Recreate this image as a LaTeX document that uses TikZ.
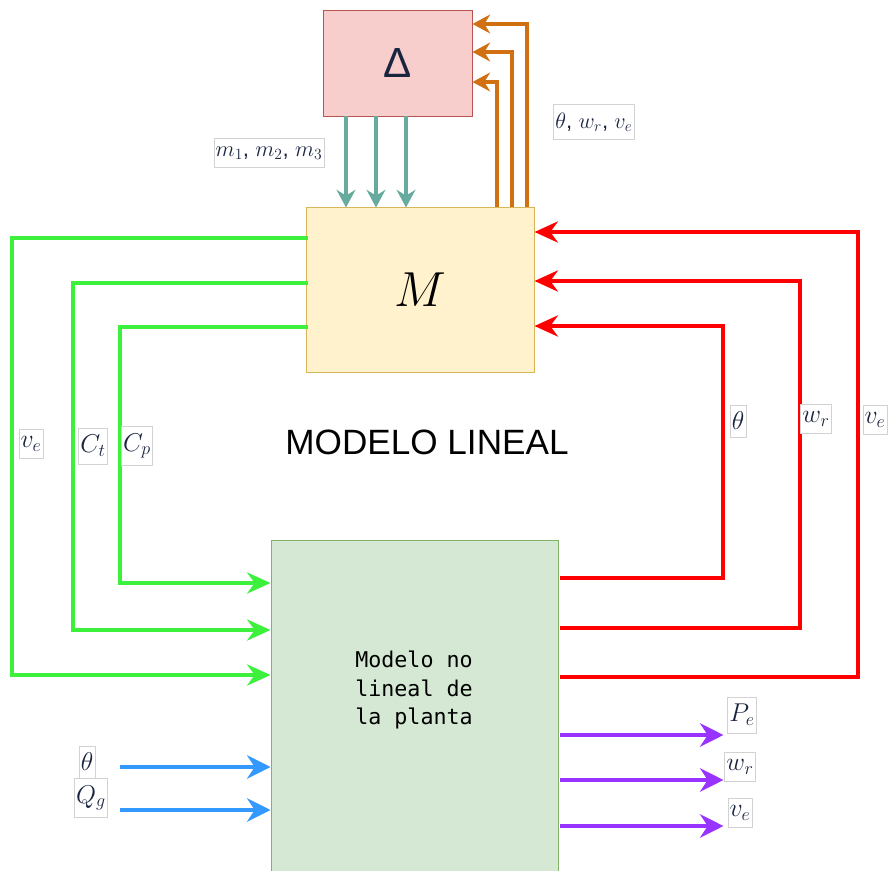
\RequirePackage{fix-cm}
\documentclass[tikz,border=0pt]{standalone}
\usepackage{fontspec}
\setmainfont{Liberation Sans}
\setmonofont{DejaVu Sans Mono}
\usepackage{tikz}
\usetikzlibrary{arrows.meta, calc}
\definecolor{delfill}{RGB}{248,206,204}
\definecolor{deldraw}{RGB}{184,84,80}
\definecolor{linfill}{RGB}{255,242,204}
\definecolor{lindraw}{RGB}{214,182,86}
\definecolor{plfill}{RGB}{213,232,212}
\definecolor{pldraw}{RGB}{130,179,102}
\definecolor{sgreen}{RGB}{60,240,60}
\definecolor{sred}{RGB}{255,0,0}
\definecolor{steal}{RGB}{103,171,159}
\definecolor{sorange}{RGB}{208,112,16}
\definecolor{sblue}{RGB}{51,153,255}
\definecolor{spurple}{RGB}{153,51,255}
\definecolor{txtnavy}{RGB}{26,37,64}

\begin{document}
\begin{tikzpicture}[
  x=0.03cm, y=-0.03cm,
  blk/.style = {rectangle, draw, line width=0.8pt, inner sep=0pt},
  lbl/.style = {rectangle, draw=gray!35, line width=0.4pt, fill=white,
                inner xsep=1.5pt, inner ysep=6pt, text=txtnavy,
                font=\fontsize{22}{26}\selectfont},
  lblw/.style = {lbl, inner ysep=7pt, font=\fontsize{19}{23}\selectfont},
  fb/.style  = {line width=3.4pt, line cap=rect,
                -{Stealth[length=20pt, width=18pt]}},
  unc/.style = {line width=2.6pt, -{Stealth[length=15pt, width=16pt]}},
  io/.style  = {line width=3.8pt,
                -{Stealth[length=20pt, width=20pt]}}
]
\useasboundingbox (0,0) rectangle (889,871);

%% ── blocks ────────────────────────────────────────────────────────────────
\node[blk, fill=delfill, draw=deldraw, minimum width=4.47cm,
      minimum height=3.18cm, text=txtnavy, font=\fontsize{36}{40}\selectfont]
  (delta) at (397.5, 63) {Δ};

\node[blk, fill=linfill, draw=lindraw, minimum width=6.84cm,
      minimum height=4.95cm, font=\fontsize{42}{48}\selectfont]
  (lin) at (420, 289.5) {$M$};

\node[blk, fill=plfill, draw=pldraw, minimum width=8.61cm,
      minimum height=10.5cm]
  (plant) at (414.5, 715) {};

\node[align=center, font=\ttfamily\fontsize{18.5}{24}\selectfont]
  (plantlbl) at (414, 690) {Modelo no\\lineal de\\la planta};

\node[font=\fontsize{30}{36}\selectfont] (title) at (427, 442) {MODELO LINEAL};

%% ── uncertainty loop ──────────────────────────────────────────────────────
\draw[unc, steal] ($(delta.south)+(-51.5,0)$) -- ++(0,91);
\draw[unc, steal] ($(delta.south)+(-21.5,0)$) -- ++(0,91);
\draw[unc, steal] ($(delta.south)+(8.5,0)$)   -- ++(0,91);

\draw[unc, sorange] ($(lin.north)+(77,0)$)  |- ($(delta.east)+(0,19)$);
\draw[unc, sorange] ($(lin.north)+(92,0)$)  |- ($(delta.east)+(0,-11)$);
\draw[unc, sorange] ($(lin.north)+(107,0)$) |- ($(delta.east)+(0,-39)$);

\node[lblw] (mlbl) at (269, 153) {$m_1$, $m_2$, $m_3$};
\node[lblw] (ylbl) at (594, 122) {$\theta$, $w_r$, $v_e$};

%% ── M -> plant (green) ────────────────────────────────────────────────────
\draw[fb, sgreen] ($(lin.west)+(0,-51.5)$) -- ++(-294,0) |- ($(plant.west)+(0,-40)$);
\draw[fb, sgreen] ($(lin.west)+(0,-6.5)$)  -- ++(-233,0) |- ($(plant.west)+(0,-85)$);
\draw[fb, sgreen] ($(lin.west)+(0,37.5)$)  -- ++(-186,0) |- ($(plant.west)+(0,-132)$);

\node[lbl] (vel) at (31, 444)  {$v_e$};
\node[lbl] (ctl) at (93, 446)  {$C_t$};
\node[lbl] (cpl) at (137, 446) {$C_p$};

%% ── plant -> M (red) ──────────────────────────────────────────────────────
\draw[fb, sred] ($(plant.east)+(4,-137)$) -- ++(161,0) |- ($(lin.east)+(0,36.5)$);
\draw[fb, sred] ($(plant.east)+(4,-87)$)  -- ++(238,0) |- ($(lin.east)+(0,-8.5)$);
\draw[fb, sred] ($(plant.east)+(4,-38)$)  -- ++(296,0) |- ($(lin.east)+(0,-57.5)$);

\node[lbl] (thr) at (738, 421) {$\theta$};
\node[lbl] (wrr) at (816, 419) {$w_r$};
\node[lbl] (ver) at (875, 420) {$v_e$};

%% ── external inputs / outputs ─────────────────────────────────────────────
\draw[io, sblue] ($(plant.west)+(-151,52)$) -- ($(plant.west)+(0,52)$);
\draw[io, sblue] ($(plant.west)+(-151,95)$) -- ($(plant.west)+(0,95)$);

\node[lbl] (thin) at (87, 762) {$\theta$};
\node[lbl] (qgin) at (91, 798) {$Q_g$};

\draw[io, spurple] ($(plant.east)+(2,20)$)  -- ++(163,0);
\draw[io, spurple] ($(plant.east)+(2,65)$)  -- ++(163,0);
\draw[io, spurple] ($(plant.east)+(2,111)$) -- ++(163,0);

\node[lbl] (peout) at (742, 715) {$P_e$};
\node[lbl] (wrout) at (740, 767) {$w_r$};
\node[lbl] (veout) at (740, 813) {$v_e$};

\end{tikzpicture}
\end{document}
